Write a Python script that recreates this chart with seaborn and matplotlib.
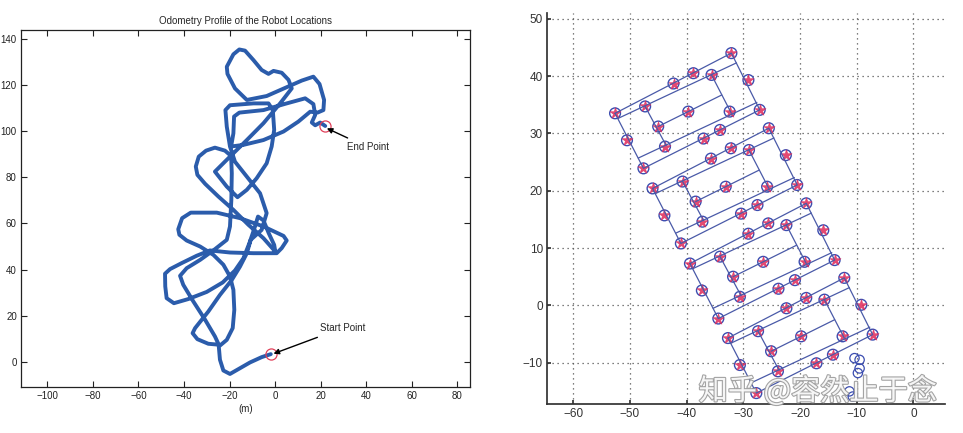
import numpy as np
import pandas as pd
import matplotlib
matplotlib.use("Agg")
import matplotlib.pyplot as plt
import matplotlib.patheffects as pe
import seaborn as sns

# ---- left panel: odometry trajectory (m) ----
odom_x = [-1.9, -5.9, -11.0, -16.1, -19.8, -22.7, -24.2, -24.7,
          -21.2, -18.6, -17.9, -18.3, -19.8, -22.7, -27.1, -32.9, -38.8, -42.0,
          -42.5, -40.8, -37.0, -25.6, -15.4, -5.1, 3.7, 5.1, 2.9, 0.7, -9.5, -19.8, -28.6,
          -34.4, -41.0, -46.1, -48.3, -48.2, -47.6, -44.4, -38.1, -30.0, -23.0, -17.6,
          -13.9, -11.3, -9.2, -7.5, -5.1, -2.8, -0.4, 0.1,
          -5.1, -11.7, -18.3, -24.9, -30.7, -34.1, -34.8, -33.5, -30.3, -26.4, -22.0, -19.3,
          -19.0, -19.2, -19.8, -21.2, -27.1, -32.9, -38.8, -41.7, -40.3, -35.9, -30.7,
          -26.4, -24.7, -29.3, -34.1, -36.2, -35.1, -29.3, -24.2, -19.0, -15.4, -12.4, -10.7,
          -5.9, -3.7, -6.6, -12.4, -17.6, -19.8,
          -21.2, -21.8, -19.8, -9.5, -2.9, -1.0, -0.4, -1.5, -3.7, -8.1, -12.4, -16.5,
          -21.2, -26.4,
          -19.8, -12.4, -5.1, 2.2, 7.3,
          5.9, 2.9, -0.7, -2.9, -5.9, -9.5, -13.2, -15.7, -18.3, -21.2, -20.9, -17.6,
          -12.4, -3.7, 5.1, 11.7,
          16.8, 19.5, 21.5, 21.2, 18.6, 15.4,
          10.2, 3.7, -5.1, -13.9, -19.3,
          -18.3, -18.0, -15.7, -5.1, 5.1, 13.2, 16.8, 17.6, 16.1, 17.6, 19.8, 22.0]
odom_y = [3.3, 2.0, -0.3, -3.2, -5.3, -3.8, 0.9, 6.6,
          9.5, 14.6, 22.5, 31.2, 37.0, 42.1, 46.4, 50.0, 52.6, 55.1,
          57.5, 62.3, 64.7, 64.7, 62.3, 58.7, 54.6, 52.6, 49.3, 47.1, 47.1, 47.4, 48.3,
          46.0, 42.8, 40.2, 38.2, 32.7, 27.6, 25.4, 27.2, 30.3, 34.4, 39.6,
          44.9, 51.4, 57.5, 63.0, 61.3, 55.8, 50.7, 47.8,
          53.6, 59.4, 65.9, 71.7, 77.2, 81.1, 84.7, 89.0, 91.6, 92.9, 91.6, 89.3,
          81.8, 70.2, 58.7, 52.9, 48.3, 44.2, 40.6, 37.3, 33.4, 26.2, 18.2,
          11.0, 7.4, 7.8, 9.8, 12.4, 14.6, 21.8, 29.0, 35.5, 41.3, 47.1, 52.9,
          57.2, 64.5, 73.1, 80.3, 86.8, 93.4,
          102.0, 109.2, 111.3, 112.1, 112.1, 109.2, 100.6, 93.4, 86.1, 79.6, 74.6, 71.4,
          76.0, 82.5,
          89.0, 96.2, 103.5, 112.1, 118.6,
          122.3, 125.4, 126.2, 124.9, 126.6, 130.9, 135.0, 135.5, 133.4, 128.0, 124.9, 118.6,
          113.6, 115.3, 119.1, 122.0,
          123.7, 120.5, 113.6, 109.2, 108.1, 108.5,
          104.2, 99.9, 96.2, 94.1, 93.4,
          99.1, 106.4, 108.1, 109.2, 112.1, 114.3, 111.8, 107.1, 103.8, 102.6, 103.8, 102.3]

start_pt = (-1.9, 3.3)
end_pt = (22.0, 102.3)
left_xticks = [-100, -80, -60, -40, -20, 0, 20, 40, 60, 80]
left_yticks = [0, 20, 40, 60, 80, 100, 120, 140]

# ---- right panel: pose graph, four repeated blocks ----
# each block: outer loop, second top line, second bottom line, inner left, inner right, middle
pose_line_id = [0, 0, 0, 0, 0, 1, 1, 2, 2, 3, 3, 4, 4, 5, 5,
                6, 6, 6, 6, 6, 7, 7, 8, 8, 9, 9, 10, 10, 11, 11,
                12, 12, 12, 12, 12, 13, 13, 14, 14, 15, 15, 16, 16, 17, 17,
                18, 18, 18, 18, 18, 19, 19, 20, 20, 21, 21, 22, 22, 23, 23]
pose_line_x = [-52.6, -32.1, -27.1, -47.6, -52.6, -52.1, -31.2, -48.5, -27.6, -47.3, -43.6, -35.6, -32.1, -45.0, -33.8,
               -46.0, -25.5, -20.5, -41.0, -46.0, -45.5, -24.6, -41.9, -21.0, -40.7, -37.0, -29.0, -25.5, -38.4, -27.2,
               -39.4, -18.9, -13.9, -34.4, -39.4, -38.9, -18.0, -35.3, -14.4, -34.1, -30.4, -22.4, -18.9, -31.8, -20.6,
               -32.7, -12.2, -7.2, -27.7, -32.7, -32.2, -11.3, -28.6, -7.7, -27.4, -23.7, -15.7, -12.2, -25.1, -13.9]
pose_line_y = [33.5, 44.0, 34.1, 23.9, 33.5, 32.6, 42.3, 25.7, 35.4, 34.7, 27.9, 40.2, 33.5, 31.2, 36.7,
               20.4, 30.9, 21.0, 10.8, 20.4, 19.5, 29.2, 12.6, 22.3, 21.6, 14.8, 27.1, 20.4, 18.1, 23.6,
               7.3, 17.8, 7.9, -2.3, 7.3, 6.4, 16.1, -0.5, 9.2, 8.5, 1.7, 14.0, 7.3, 5.0, 10.5,
               -5.7, 4.8, -5.1, -15.3, -5.7, -6.6, 3.1, -13.5, -3.8, -4.5, -11.3, 1.0, -5.7, -8.0, -2.5]

pose_x = [-52.6, -50.5, -47.6, -47.3, -45.0, -43.8, -42.3, -39.7, -38.8, -35.6, -32.4, -32.1, -29.1, -27.1, -34.1, -37.0,
          -46.0, -43.9, -41.0, -40.7, -38.4, -37.2, -35.7, -33.1, -32.2, -29.0, -25.8, -25.5, -22.5, -20.5, -27.5, -30.4,
          -39.4, -37.3, -34.4, -34.1, -31.8, -30.6, -29.1, -26.5, -25.6, -22.4, -19.2, -18.9, -15.9, -13.9, -20.9, -23.8,
          -32.7, -30.6, -27.7, -27.4, -25.1, -23.9, -22.4, -19.8, -18.9, -15.7, -12.5, -12.2, -9.2, -7.2, -14.2, -17.1]
pose_y = [33.5, 28.8, 23.9, 34.7, 31.2, 27.7, 38.7, 33.8, 40.5, 40.2, 33.8, 44.0, 39.3, 34.1, 30.6, 29.1,
          20.4, 15.7, 10.8, 21.6, 18.1, 14.6, 25.6, 20.7, 27.4, 27.1, 20.7, 30.9, 26.2, 21.0, 17.5, 16.0,
          7.3, 2.6, -2.3, 8.5, 5.0, 1.5, 12.5, 7.6, 14.3, 14.0, 7.6, 17.8, 13.1, 7.9, 4.4, 2.9,
          -5.7, -10.4, -15.3, -4.5, -8.0, -11.5, -0.5, -5.4, 1.3, 1.0, -5.4, 4.8, 0.1, -5.1, -8.6, -10.1]

stray_x = [-10.4, -9.5, -9.5, -9.8, -11.3, -10.7]
stray_y = [-9.2, -9.5, -11.0, -11.8, -15.0, -15.9]

right_xticks = [-60, -50, -40, -30, -20, -10, 0]
right_yticks = [-10, 0, 10, 20, 30, 40, 50]

sns.set_theme(style="white")
plt.rcParams["font.family"] = ["Liberation Sans", "DejaVu Sans"]

fig = plt.figure(figsize=(9.63, 4.33), dpi=100)

# left panel
ax1 = fig.add_axes([0.0218, 0.106, 0.4662, 0.825])
sns.lineplot(x=odom_x, y=odom_y, sort=False, estimator=None, color="#2b5cab",
             linewidth=2.8, ax=ax1)
for ln in ax1.lines:
    ln.set_solid_joinstyle("round")
    ln.set_solid_capstyle("round")
ax1.plot(*start_pt, "o", ms=8, mfc="none", mec="#e0405a", mew=0.9)
ax1.plot(*end_pt, "o", ms=8, mfc="none", mec="#e0405a", mew=0.9)
ax1.annotate("End Point", xy=(22.7, 101.3), xytext=(31.5, 93.0), fontsize=7,
             va="center", ha="left",
             arrowprops=dict(arrowstyle="-|>", color="black", lw=1.0,
                             mutation_scale=8, shrinkA=2, shrinkB=0))
ax1.annotate("Start Point", xy=(-0.7, 3.5), xytext=(19.5, 14.6), fontsize=7,
             va="center", ha="left",
             arrowprops=dict(arrowstyle="-|>", color="black", lw=1.0,
                             mutation_scale=8, shrinkA=2, shrinkB=0))
ax1.set_xlim(-111.5, 85.5)
ax1.set_ylim(-11, 144)
ax1.set_xticks(left_xticks)
ax1.set_yticks(left_yticks)
ax1.tick_params(direction="in", length=4, width=0.8, labelsize=7, colors="#222",
                top=True, right=True, bottom=True, left=True, pad=3)
for s in ax1.spines.values():
    s.set_visible(True)
    s.set_color("#222")
    s.set_linewidth(0.9)
ax1.set_xlabel("(m)", fontsize=7, labelpad=2)
ax1.set_title("Odometry Profile of the Robot Locations", fontsize=7, pad=4)

# right panel
ax2 = fig.add_axes([0.568, 0.067, 0.413, 0.903])
seg_df = pd.DataFrame({"x": pose_line_x, "y": pose_line_y, "seg": pose_line_id})
sns.lineplot(data=seg_df, x="x", y="y", units="seg", estimator=None, sort=False,
             color="#4a5aa8", linewidth=0.9, ax=ax2)
sns.scatterplot(x=pose_x, y=pose_y, marker="o", s=60, facecolor="none",
                edgecolor="#3b4db0", linewidth=1.0, ax=ax2)
sns.scatterplot(x=pose_x, y=pose_y, marker="*", s=70, color="#e02a5a",
                edgecolor="#e02a5a", linewidth=0.4, alpha=0.85, ax=ax2)
sns.scatterplot(x=stray_x, y=stray_y, marker="o", s=45, facecolor="none",
                edgecolor="#3b4db0", linewidth=0.9, ax=ax2)
ax2.set_xlim(-64.6, 5.5)
ax2.set_ylim(-17.2, 51)
ax2.set_xticks(right_xticks)
ax2.set_yticks(right_yticks)
ax2.grid(True, linestyle=(0, (1, 3)), color="#555", linewidth=0.9)
ax2.tick_params(direction="in", length=3, labelsize=8.5, colors="#333",
                bottom=True, left=True, pad=3)
ax2.spines["top"].set_visible(False)
ax2.spines["right"].set_visible(False)
ax2.spines["left"].set_color("#333")
ax2.spines["bottom"].set_color("#333")
ax2.set_xlabel("")
ax2.set_ylabel("")

fig.text(0.849, 0.095, "知乎 @容然止于念", fontsize=21, color="white", alpha=0.9,
         ha="center", va="center", family=["Noto Sans CJK SC", "DejaVu Sans"],
         path_effects=[pe.withStroke(linewidth=1.6, foreground="#9a9a9a")])

plt.savefig("out.png", dpi=100)
plt.close()
